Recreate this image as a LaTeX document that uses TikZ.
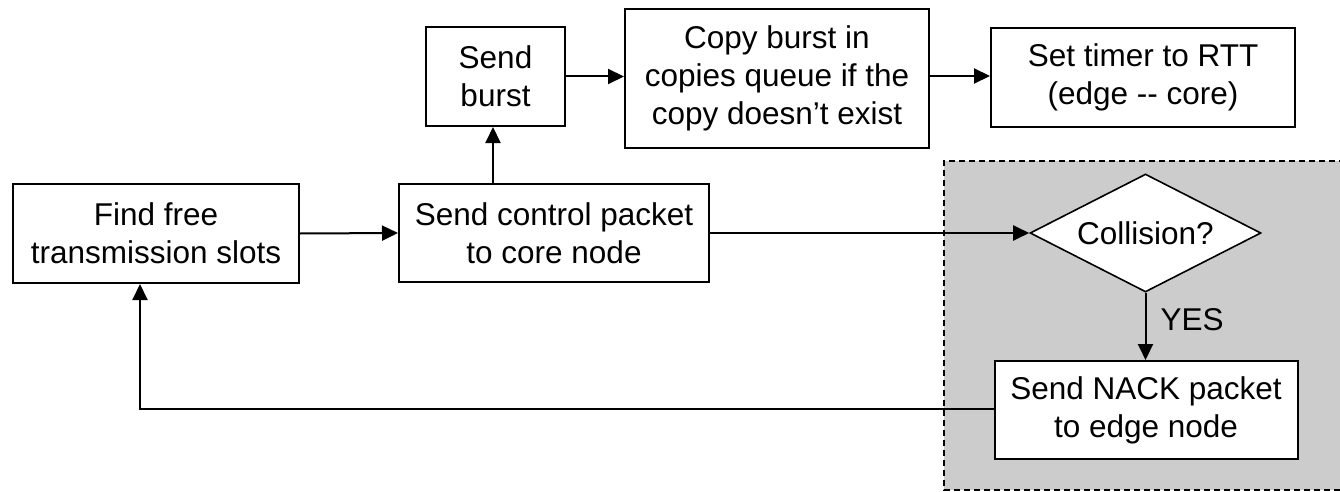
\documentclass[tikz,border=0pt]{standalone}
\usepackage{fontspec}
\setmainfont{Liberation Sans}
\usetikzlibrary{shapes.geometric,arrows.meta}
\definecolor{panelgray}{HTML}{CCCCCC}
\begin{document}
\begin{tikzpicture}[x=1pt,y=-1pt,
  box/.style={draw,line width=2pt,fill=white,inner sep=0pt,align=center,
    font=\fontsize{31.5}{38}\selectfont},
  decision/.style={diamond,draw,line width=1.6pt,fill=white,inner sep=0pt,aspect=1.96,
    font=\fontsize{31.5}{38}\selectfont},
  arr/.style={line width=2pt,-{Triangle[length=16pt,width=15pt]}},
  lbl/.style={font=\fontsize{31.5}{38}\selectfont,inner sep=0pt}]
\useasboundingbox (0,0) rectangle (1340,492);
% shaded panel
\fill[panelgray] (944,161) rectangle (1345,490);
\draw[line width=1.5pt,dash pattern=on 6pt off 4pt] (1345,161) -- (944,161) -- (944,490) -- (1345,490);
% nodes
\node[box,minimum width=286pt,minimum height=99pt] (find) at (156,233.5) {Find free\\transmission slots};
\node[box,minimum width=310pt,minimum height=98pt] (ctrl) at (554,233) {Send control packet\\to core node};
\node[box,minimum width=139pt,minimum height=99pt] (burst) at (495.5,76.5) {Send\\burst};
\node[box,minimum width=304pt,minimum height=139pt] (copy) at (777,78.5) {Copy burst in\\copies queue if the\\copy doesn’t exist};
\node[box,minimum width=304pt,minimum height=99pt] (timer) at (1143,77.5) {Set timer to RTT\\(edge -{}- core)};
\node[decision,minimum width=231pt,minimum height=118pt] (coll) at (1145.5,233) {Collision?};
\node[box,minimum width=303pt,minimum height=98pt] (nack) at (1146,410) {Send NACK packet\\to edge node};
\node[lbl] (yes) at (1192,320) {YES};
\coordinate (turn) at (140,409);
% connectors
\draw[arr] (find.east) -- (ctrl.west);
\draw[arr] (ctrl.north -| 493,0) -- (493,0 |- burst.south);
\draw[arr] (burst.east) -- (burst.east -| copy.west);
\draw[arr] (copy.east |- 0,76) -- (timer.west |- 0,76);
\draw[arr] (ctrl.east) -- (coll.west);
\draw[arr] (coll.south) -- (coll.south |- nack.north);
\draw[arr] (nack.west |- turn) -- (turn) -- (turn |- find.south);
\end{tikzpicture}
\end{document}
